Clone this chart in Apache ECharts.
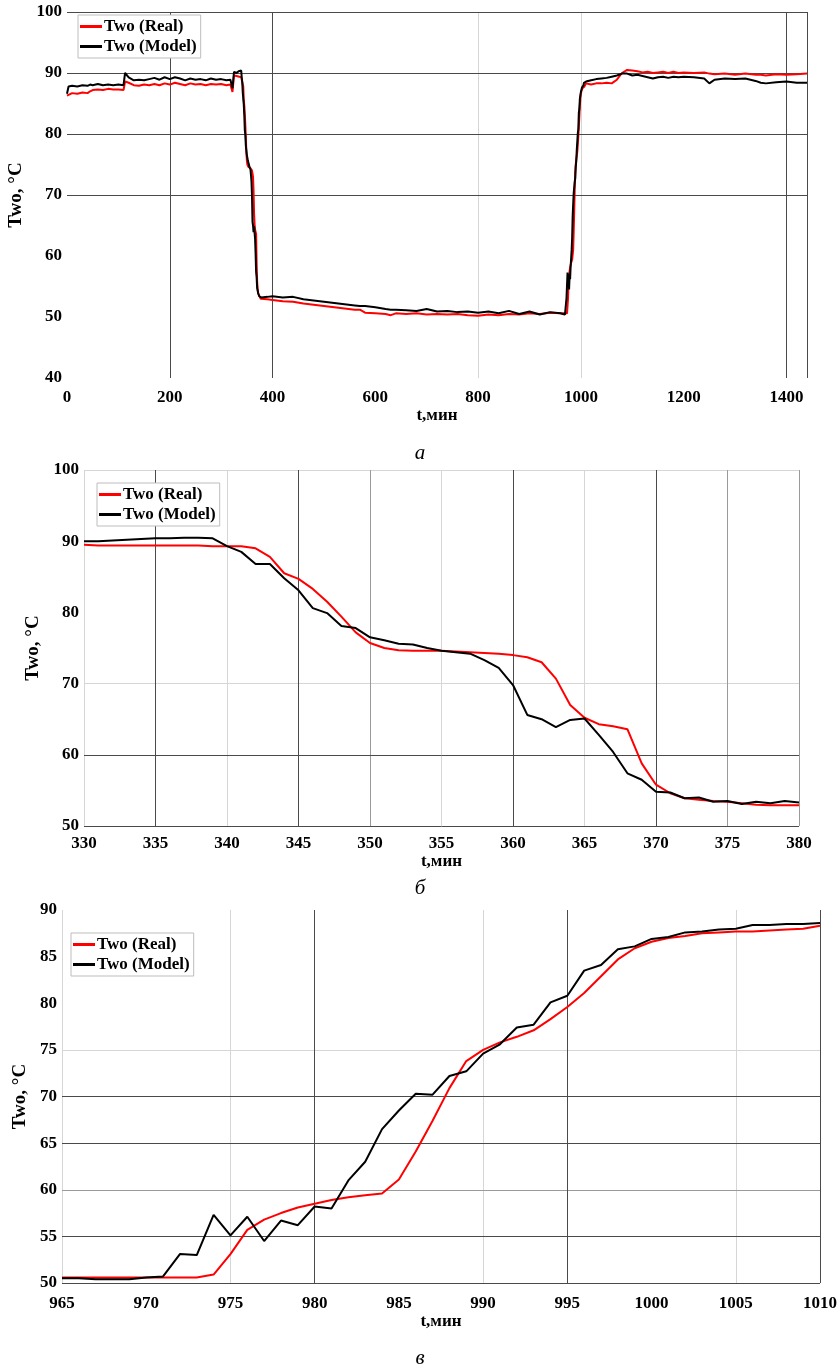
<!DOCTYPE html>
<html>
<head>
<meta charset="utf-8">
<script src="https://cdn.jsdelivr.net/npm/echarts@6/dist/echarts.min.js"></script>
<style>
html,body{margin:0;padding:0;background:#fff;}
#chart{width:840px;height:1366px;}
</style>
</head>
<body>
<div id="chart"></div>
<script>
// ---------- DATA ----------
const seriesNames = ['Two (Real)', 'Two (Model)'];
const captions = ['а', 'б', 'в'];
const xTitle = 't,мин';
const yTitle = 'Two, °C';

// Panel б : 330..380 min
const bTime = [330,331,332,333,334,335,336,337,338,339,340,341,342,343,344,345,346,347,348,349,350,351,352,353,354,355,356,357,358,359,360,361,362,363,364,365,366,367,368,369,370,371,372,373,374,375,376,377,378,379,380];
const bReal = [89.5,89.4,89.4,89.4,89.4,89.4,89.4,89.4,89.4,89.3,89.3,89.3,89.0,87.8,85.5,84.7,83.3,81.5,79.4,77.2,75.7,75.0,74.7,74.6,74.6,74.6,74.5,74.4,74.3,74.2,74.0,73.7,73.0,70.7,67.0,65.2,64.3,64.0,63.6,58.8,55.8,54.6,53.9,53.7,53.5,53.4,53.2,53.0,52.9,52.9,52.9];
const bModel = [90.0,90.0,90.1,90.2,90.3,90.4,90.4,90.5,90.5,90.4,89.3,88.5,86.8,86.8,84.8,83.1,80.6,79.9,78.1,77.8,76.5,76.1,75.6,75.5,75.0,74.6,74.4,74.2,73.3,72.2,69.8,65.6,65.0,63.9,64.9,65.1,62.8,60.4,57.4,56.5,54.8,54.7,53.9,54.0,53.4,53.5,53.1,53.4,53.2,53.5,53.3];

// Panel в : 965..1010 min
const cTime = [965,966,967,968,969,970,971,972,973,974,975,976,977,978,979,980,981,982,983,984,985,986,987,988,989,990,991,992,993,994,995,996,997,998,999,1000,1001,1002,1003,1004,1005,1006,1007,1008,1009,1010];
const cReal = [50.6,50.6,50.6,50.6,50.6,50.6,50.6,50.6,50.6,50.9,53.1,55.7,56.8,57.5,58.1,58.5,58.9,59.2,59.4,59.6,61.1,64.1,67.4,70.9,73.8,75.0,75.8,76.4,77.1,78.3,79.6,81.1,82.9,84.7,85.9,86.6,87.0,87.2,87.5,87.6,87.7,87.7,87.8,87.9,88.0,88.3];
const cModel = [50.5,50.5,50.4,50.4,50.4,50.6,50.7,53.1,53.0,57.3,55.1,57.1,54.5,56.7,56.2,58.2,58.0,61.0,63.0,66.5,68.5,70.3,70.2,72.2,72.7,74.6,75.6,77.4,77.7,80.1,80.8,83.5,84.1,85.8,86.1,86.9,87.1,87.6,87.7,87.9,88.0,88.4,88.4,88.5,88.5,88.6];

// Panel а : whole day, 0..1440 min (detail segments above reused)
const aTimePre = [0,3,10,20,30,40,45,50,60,70,80,90,100,110,113,116,120,130,140,150,160,170,180,190,200,210,220,230,240,250,260,270,280,290,300,310,318,322,325];
const aRealPre = [86.3,86.6,86.7,86.6,86.8,86.7,87.0,87.2,87.3,87.2,87.4,87.3,87.3,87.2,88.6,88.9,88.4,88.0,87.9,88.1,88.0,88.2,88.0,88.3,88.1,88.4,88.2,88.0,88.3,88.1,88.2,88.0,88.2,88.1,88.2,88.0,88.1,86.9,89.6];
const aModelPre = [86.6,87.8,87.9,87.8,88.0,87.9,88.1,88.0,88.2,88.0,88.1,88.0,88.1,88.0,90.0,90.2,89.3,88.8,88.9,88.8,89.0,89.2,88.9,89.3,89.0,89.3,89.1,88.8,89.1,88.9,89.0,88.8,89.1,88.9,89.0,88.8,88.9,87.5,90.2];

const aTimeMid = [390,400,420,440,460,480,500,520,540,560,570,580,600,620,630,640,660,680,700,720,740,760,780,800,820,840,860,880,900,920,940,960];
const aRealMid = [52.9,52.8,52.6,52.5,52.2,52.0,51.8,51.6,51.4,51.2,51.2,50.7,50.6,50.5,50.3,50.6,50.5,50.6,50.4,50.5,50.4,50.5,50.3,50.2,50.4,50.3,50.5,50.4,50.6,50.5,50.7,50.6];
const aModelMid = [53.3,53.4,53.2,53.3,52.9,52.7,52.5,52.3,52.1,51.9,51.8,51.8,51.6,51.3,51.2,51.2,51.1,51.0,51.3,50.9,51.0,50.8,50.9,50.7,50.9,50.6,51.0,50.5,50.9,50.4,50.8,50.6];

const aTimePost = [1020,1030,1040,1050,1060,1070,1080,1090,1100,1110,1120,1130,1140,1150,1160,1170,1180,1190,1200,1220,1240,1250,1260,1280,1300,1320,1340,1350,1360,1380,1400,1420,1440];
const aRealPost = [88.1,88.3,88.3,88.4,88.3,88.9,90.0,90.5,90.4,90.3,90.1,90.2,90.0,90.1,90.2,90.0,90.2,90.0,90.1,90.0,90.1,89.9,89.8,89.9,89.7,89.9,89.7,89.7,89.6,89.8,89.7,89.8,89.9];
const aModelPost = [88.8,89.0,89.1,89.2,89.4,89.6,89.9,89.9,89.6,89.7,89.5,89.3,89.1,89.3,89.4,89.2,89.4,89.3,89.4,89.3,89.1,88.3,88.9,89.1,89.0,89.1,88.7,88.4,88.3,88.5,88.6,88.4,88.4];

// Axis ranges and ticks
const aX = {min:0, max:1440, interval:200};
const aY = {min:40, max:100, interval:10};
const bX = {min:330, max:380, interval:5};
const bY = {min:50, max:100, interval:10};
const cX = {min:965, max:1010, interval:5};
const cY = {min:50, max:90, interval:5};

// Grid-line values (dark / medium / light)
const aGrid = {xDark:[200,400,1400,1440], xMed:[], xLight:[800,1000], yDark:[70,80,90,100], yMed:[], yLight:[]};
const bGrid = {xDark:[335,345,360,370], xMed:[350,375,380], xLight:[330,340,355,365], yDark:[50,60], yMed:[], yLight:[70,100]};
const cGrid = {xDark:[980,995,1010], xMed:[], xLight:[965,975,990,1005], yDark:[50,55,65,70], yMed:[60], yLight:[75]};

// ---------- BUILD ----------
const zip = (t, v) => t.map((x, i) => [x, v[i]]);
const aTime = aTimePre.concat(bTime, aTimeMid, cTime, aTimePost);
const aReal = aRealPre.concat(bReal, aRealMid, cReal, aRealPost);
const aModel = aModelPre.concat(bModel, aModelMid, cModel, aModelPost);

const FONT = 'Liberation Serif';
const DARK = '#4a4a4a', MED = '#9a9a9a', LIGHT = '#d6d6d6';

const grids = [
  {left:67, top:12, width:740, height:366, outerBoundsMode:'none', containLabel:false},
  {left:84, top:470, width:715, height:356, outerBoundsMode:'none', containLabel:false},
  {left:62, top:910, width:758, height:373, outerBoundsMode:'none', containLabel:false}
];
const xr = [aX, bX, cX], yr = [aY, bY, cY];
const gl = [aGrid, bGrid, cGrid];
const nameGapsY = [33, 29, 24];
const nameGapsX = [28, 23, 28];
const labelMarginX = [11, 9, 12];

function axisLabel(extra) {
  return Object.assign({color:'#000', fontFamily:FONT, fontWeight:'bold', fontSize:17,
    formatter: v => String(v)}, extra || {});
}

const xAxis = xr.map((r, i) => ({
  type:'value', gridIndex:i, min:r.min, max:r.max, interval:r.interval,
  name:xTitle, nameLocation:'middle', nameGap:nameGapsX[i],
  nameTextStyle:{color:'#000', fontFamily:FONT, fontWeight:'bold', fontSize:17},
  axisLine:{show:false}, axisTick:{show:false}, splitLine:{show:false},
  axisLabel:axisLabel({margin:labelMarginX[i], showMaxLabel: i !== 0})
}));
const yAxis = yr.map((r, i) => ({
  type:'value', gridIndex:i, min:r.min, max:r.max, interval:r.interval,
  name:yTitle, nameLocation:'middle', nameGap:nameGapsY[i], nameRotate:90,
  nameTextStyle:{color:'#000', fontFamily:FONT, fontWeight:'bold', fontSize:19},
  axisLine:{show:false}, axisTick:{show:false}, splitLine:{show:false},
  axisLabel:axisLabel({margin:5})
}));

function gridLines(g) {
  const out = [];
  const add = (arr, key, color) => arr.forEach(v => out.push({[key]:v, lineStyle:{color:color, width:1, type:'solid'}}));
  add(g.xLight, 'xAxis', LIGHT); add(g.yLight, 'yAxis', LIGHT);
  add(g.xMed, 'xAxis', MED); add(g.yMed, 'yAxis', MED);
  add(g.xDark, 'xAxis', DARK); add(g.yDark, 'yAxis', DARK);
  return out;
}

const seriesData = [
  [zip(aTime, aReal), zip(aTime, aModel)],
  [zip(bTime, bReal), zip(bTime, bModel)],
  [zip(cTime, cReal), zip(cTime, cModel)]
];

const series = [];
for (let i = 0; i < 3; i++) {
  series.push({
    type:'line', xAxisIndex:i, yAxisIndex:i, data:[], silent:true, z:1,
    markLine:{z:1, silent:true, animation:false, symbol:['none','none'], label:{show:false},
      emphasis:{disabled:true}, data:gridLines(gl[i])}
  });
  series.push({
    name:seriesNames[0], type:'line', xAxisIndex:i, yAxisIndex:i, data:seriesData[i][0],
    showSymbol:false, symbol:'none', z:3, animation:false,
    lineStyle:{color:'#ff0000', width:2}, itemStyle:{color:'#ff0000'}
  });
  series.push({
    name:seriesNames[1], type:'line', xAxisIndex:i, yAxisIndex:i, data:seriesData[i][1],
    showSymbol:false, symbol:'none', z:4, animation:false,
    lineStyle:{color:'#000000', width:2}, itemStyle:{color:'#000000'}
  });
}

const legendPos = [{left:78, top:15}, {left:97, top:483}, {left:71, top:933}];
const legend = legendPos.map(p => ({
  data:seriesNames, orient:'vertical', left:p.left, top:p.top,
  icon:'rect', itemWidth:22, itemHeight:3, itemGap:3,
  padding:[3,4,3,2], borderColor:'#bdbdbd', borderWidth:1, backgroundColor:'#fff',
  selectedMode:false,
  textStyle:{color:'#000', fontFamily:FONT, fontWeight:'bold', fontSize:17, padding:[0,0,0,-3]}
}));

const captionY = [455, 890, 1360];
const graphic = captions.map((c, i) => ({
  type:'text', left:'center', top:captionY[i] - 12,
  style:{text:c, font:'italic 21px "Liberation Serif"', fill:'#000'}
}));

const chart = echarts.init(document.getElementById('chart'), null, {renderer:'canvas'});
chart.setOption({
  backgroundColor:'#fff',
  animation:false,
  grid:grids,
  xAxis:xAxis,
  yAxis:yAxis,
  legend:legend,
  series:series,
  graphic:graphic
});
</script>
</body>
</html>
